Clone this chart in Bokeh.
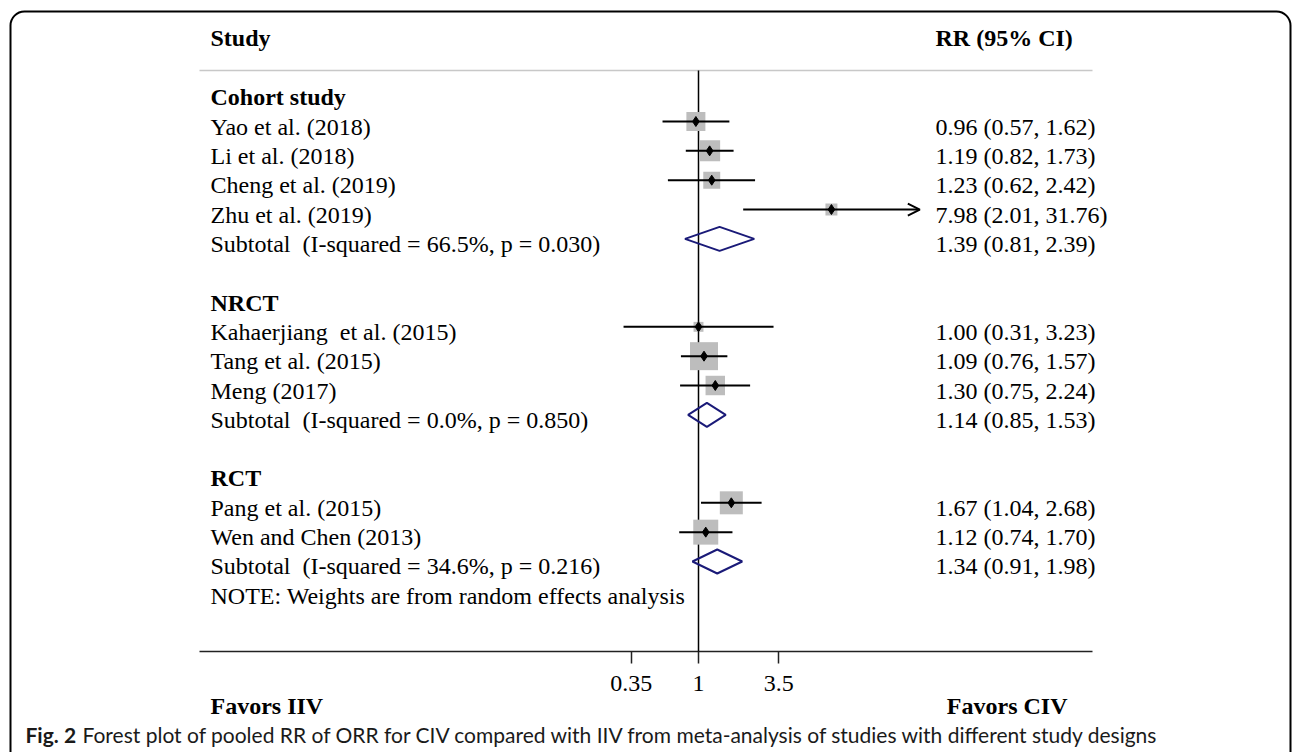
import math
from bokeh.plotting import figure
from bokeh.models import (Range1d, LinearScale, ColumnDataSource, LabelSet, Label, LogAxis,
                          FixedTicker, CustomJSTickFormatter, BoxAnnotation, Arrow, OpenHead)
from bokeh.core.properties import value
from bokeh.embed import file_html
from bokeh.resources import INLINE

# ---------------- data ----------------
groups = ["Cohort study", "NRCT", "RCT"]
group_sizes = [4, 3, 2]
studies = ["Yao et al. (2018)", "Li et al. (2018)", "Cheng et al. (2019)", "Zhu et al. (2019)",
           "Kahaerjiang\u00a0 et al. (2015)", "Tang et al. (2015)", "Meng (2017)",
           "Pang et al. (2015)", "Wen and Chen (2013)"]
rr = [0.96, 1.19, 1.23, 7.98, 1.00, 1.09, 1.30, 1.67, 1.12]
rr_lo = [0.57, 0.82, 0.62, 2.01, 0.31, 0.76, 0.75, 1.04, 0.74]
rr_hi = [1.62, 1.73, 2.42, 31.76, 3.23, 1.57, 2.24, 2.68, 1.70]
weights = [9.9, 12.1, 7.9, 3.9, 2.7, 21.5, 10.4, 14.5, 17.1]   # relative box weights (%)
sub_rr = [1.39, 1.14, 1.34]
sub_lo = [0.81, 0.85, 0.91]
sub_hi = [2.39, 1.53, 1.98]
sub_i2 = [66.5, 0.0, 34.6]
sub_p = [0.030, 0.850, 0.216]
tick_values = [0.35, 1, 3.5]
null_value = 1.0
note_text = "NOTE: Weights are from random effects analysis"
caption_bold = "Fig. 2"
caption_text = ("Forest plot of pooled RR of ORR for CIV compared with IIV from meta-analysis "
                "of studies with different study designs")

# ---------------- layout (page pixels) ----------------
W, H = 1292, 752
X_ONE = 698.0
PX_PER_LN = 64.0
AX_L, AX_R = 199, 1092
AX_Y = 651
HDR_RULE_Y = 70
ROW0, ROW_H = 91.7, 29.33
ARROW_LIMIT = 20.0


def row_of(py):
    return (py - ROW0) / ROW_H


xmin = math.exp((0 - X_ONE) / PX_PER_LN)
xmax = math.exp((W - X_ONE) / PX_PER_LN)

p = figure(width=W, height=H, x_axis_type="log", x_axis_location=None,
           x_range=Range1d(xmin, xmax),
           y_range=Range1d(row_of(H), row_of(0)),
           output_backend="svg", toolbar_location=None, y_axis_location=None,
           min_border=0, min_border_left=0, min_border_right=0,
           min_border_top=0, min_border_bottom=0)
p.extra_x_ranges = {"px": Range1d(0, W)}
p.extra_x_scales = {"px": LinearScale()}
p.grid.visible = False
p.outline_line_color = None
p.background_fill_color = "white"
p.border_fill_color = "white"

ax = LogAxis(fixed_location=row_of(AX_Y))
ax.ticker = FixedTicker(ticks=tick_values, minor_ticks=[])
ax.formatter = CustomJSTickFormatter(code="return tick.toString()")
ax.axis_line_color = None
ax.major_tick_line_color = "#222222"
ax.major_tick_line_width = 1.5
ax.major_tick_out = 12
ax.major_tick_in = 0
ax.minor_tick_out = 0
ax.minor_tick_in = 0
ax.major_label_text_font = "Liberation Serif"
ax.major_label_text_font_size = "24px"
ax.major_label_text_color = "black"
ax.major_label_standoff = 12
p.add_layout(ax, "below")

SERIF = "Liberation Serif"
FS = "24px"
TXT_OFF = 5

# rows
study_rows, header_rows, sub_rows = [], [], []
r = 0
for g, n in zip(groups, group_sizes):
    header_rows.append(r)
    for j in range(n):
        study_rows.append(r + 1 + j)
    sub_rows.append(r + 1 + n)
    r += n + 3
note_row = sub_rows[-1] + 1

# header rule, axis line and null line
hdr_y = row_of(HDR_RULE_Y)
ax_y = row_of(AX_Y)
p.segment(x0=[AX_L], x1=[AX_R], y0=[hdr_y], y1=[hdr_y], x_range_name="px",
          line_color="#c8c8c8", line_width=1.5)
p.segment(x0=[AX_L], x1=[AX_R], y0=[ax_y], y1=[ax_y], x_range_name="px",
          line_color="#222222", line_width=1.5)
p.segment(x0=[null_value], x1=[null_value], y0=[hdr_y], y1=[ax_y],
          line_color="black", line_width=1.5)

# study boxes
box_sizes = [6.04 * math.sqrt(w) for w in weights]
p.scatter(x=rr, y=study_rows, size=box_sizes, marker="square",
          fill_color="#bdbdbd", line_color=None)

# CIs
seg_idx = [i for i in range(len(rr)) if rr_hi[i] <= ARROW_LIMIT]
arr_idx = [i for i in range(len(rr)) if rr_hi[i] > ARROW_LIMIT]
p.segment(x0=[rr_lo[i] for i in seg_idx], x1=[rr_hi[i] for i in seg_idx],
          y0=[study_rows[i] for i in seg_idx], y1=[study_rows[i] for i in seg_idx],
          line_color="black", line_width=2)
for i in arr_idx:
    p.add_layout(Arrow(end=OpenHead(size=12, line_width=2, line_color="black"),
                       x_start=rr_lo[i], x_end=rr_hi[i],
                       y_start=study_rows[i], y_end=study_rows[i],
                       line_color="black", line_width=2))

p.scatter(x=rr, y=study_rows, size=10, marker="diamond", color="black")

# subtotal diamonds
half = 12.0 / ROW_H
xs = [[lo, m, hi, m] for lo, m, hi in zip(sub_lo, sub_rr, sub_hi)]
ys = [[yy, yy - half, yy, yy + half] for yy in sub_rows]
p.patches(xs, ys, fill_alpha=0, line_color="#1a1a78", line_width=2)

# ---------------- text columns ----------------
LEFT_X = 210
RIGHT_X = 935
left_normal = studies + [f"Subtotal\u00a0 (I-squared = {a:.1f}%, p = {b:.3f})" for a, b in zip(sub_i2, sub_p)] + [note_text]
left_normal_rows = study_rows + sub_rows + [note_row]
src_ln = ColumnDataSource(dict(x=[LEFT_X] * len(left_normal), y=left_normal_rows, t=left_normal))
p.add_layout(LabelSet(x="x", y="y", text="t", source=src_ln, x_range_name="px",
                      text_font=value(SERIF), text_font_size=value(FS), text_color="black",
                      text_baseline="middle", text_align="left", y_offset=-TXT_OFF))

src_lb = ColumnDataSource(dict(x=[LEFT_X] * len(groups), y=header_rows, t=groups))
p.add_layout(LabelSet(x="x", y="y", text="t", source=src_lb, x_range_name="px",
                      text_font=value(SERIF), text_font_size=value(FS), text_font_style="bold",
                      text_color="black", text_baseline="middle", text_align="left", y_offset=-TXT_OFF))

right_txt = [f"{a:.2f} ({b:.2f}, {c:.2f})" for a, b, c in zip(rr, rr_lo, rr_hi)] + \
            [f"{a:.2f} ({b:.2f}, {c:.2f})" for a, b, c in zip(sub_rr, sub_lo, sub_hi)]
right_rows = study_rows + sub_rows
src_r = ColumnDataSource(dict(x=[RIGHT_X] * len(right_txt), y=right_rows, t=right_txt))
p.add_layout(LabelSet(x="x", y="y", text="t", source=src_r, x_range_name="px",
                      text_font=value(SERIF), text_font_size=value(FS), text_color="black",
                      text_baseline="middle", text_align="left", y_offset=-TXT_OFF))

# headers
p.add_layout(Label(x=LEFT_X, y=row_of(37), x_range_name="px", text="Study",
                   text_font=SERIF, text_font_size=FS, text_font_style="bold",
                   text_baseline="middle", text_align="left", text_color="black"))
p.add_layout(Label(x=RIGHT_X, y=row_of(37), x_range_name="px", text="RR (95% CI)",
                   text_font=SERIF, text_font_size=FS, text_font_style="bold",
                   text_baseline="middle", text_align="left", text_color="black"))

# favors
p.add_layout(Label(x=LEFT_X, y=row_of(705), x_range_name="px", text="Favors IIV",
                   text_font=SERIF, text_font_size=FS, text_font_style="bold",
                   text_baseline="middle", text_align="left", text_color="black"))
p.add_layout(Label(x=1067, y=row_of(705), x_range_name="px", text="Favors CIV",
                   text_font=SERIF, text_font_size=FS, text_font_style="bold",
                   text_baseline="middle", text_align="right", text_color="black"))

# caption
p.add_layout(Label(x=25, y=row_of(734), x_range_name="px", text=caption_bold,
                   text_font="Lato", text_font_size="21px", text_font_style="bold",
                   text_baseline="middle", text_align="left", text_color="#1a1a1a"))
p.add_layout(Label(x=82, y=row_of(734), x_range_name="px", text=caption_text,
                   text_font="Lato", text_font_size="21px",
                   text_baseline="middle", text_align="left", text_color="#1a1a1a"))

# rounded frame
p.add_layout(BoxAnnotation(left=10, right=1290, top=row_of(11), bottom=row_of(800),
                           x_range_name="px", fill_alpha=0, line_color="black", line_alpha=1.0,
                           line_width=2, border_radius=14))

open("out.html", "w").write(file_html(p, INLINE))
